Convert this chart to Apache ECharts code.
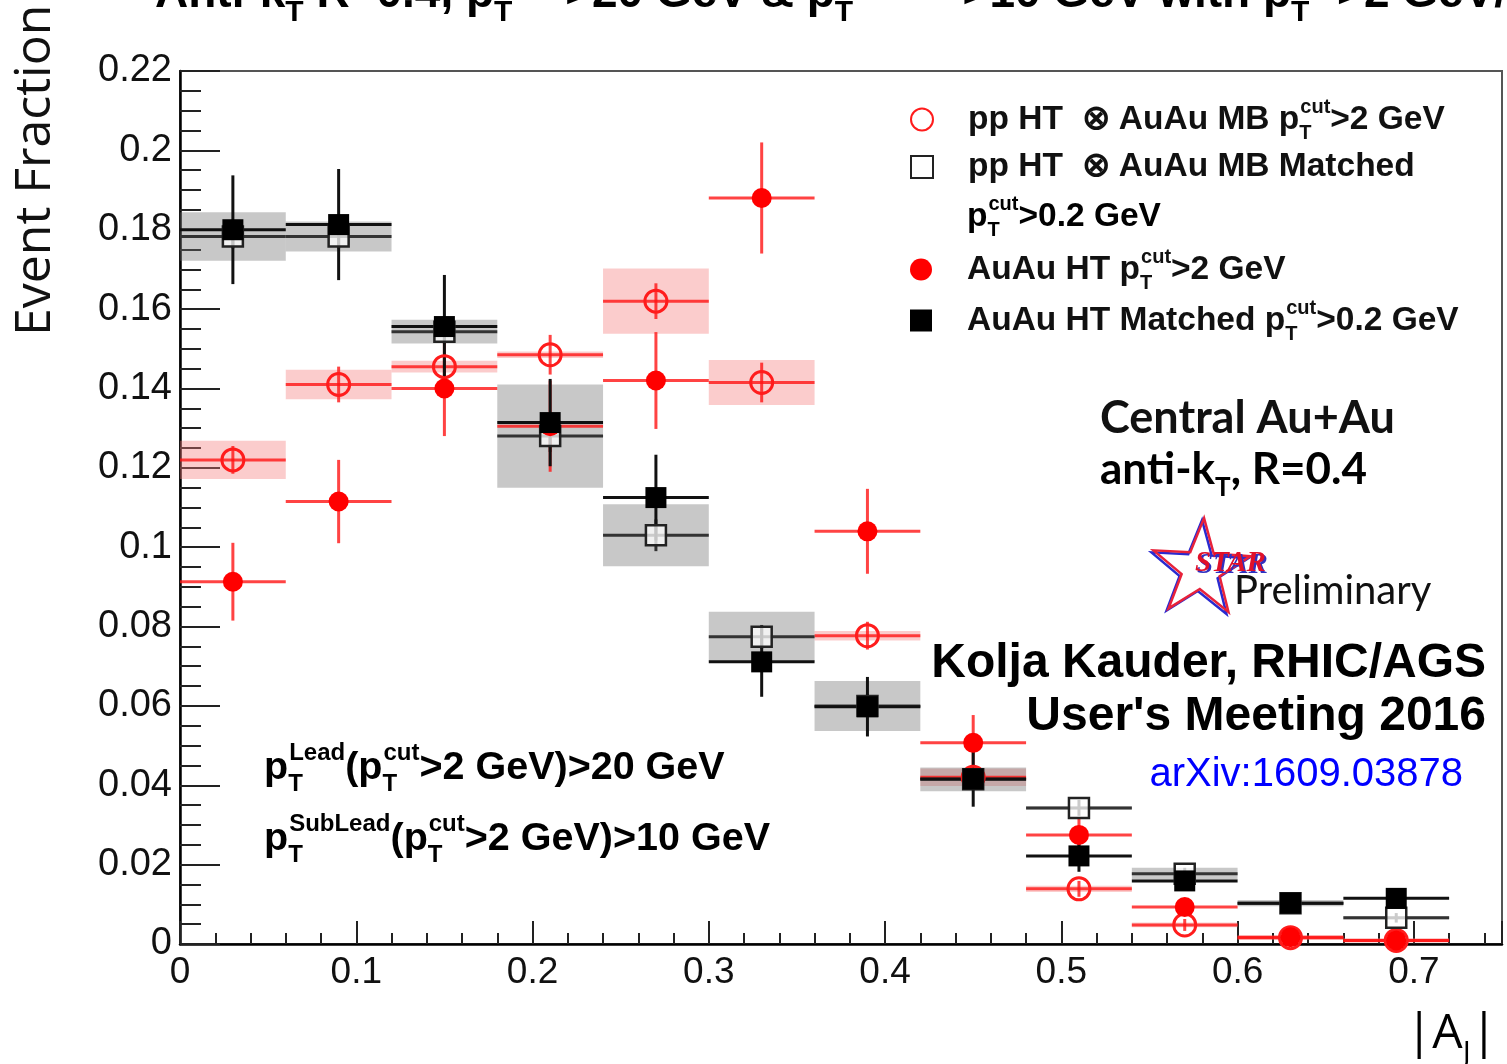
<!DOCTYPE html>
<html><head><meta charset="utf-8">
<script src="https://cdn.jsdelivr.net/npm/echarts@6/dist/echarts.min.js"></script>
<style>html,body{margin:0;padding:0;background:#fff}#c{width:1507px;height:1064px}</style>
</head><body><div id="c"></div>
<script>
// ---------------- DATA ----------------
const binCenters = [0.03, 0.09, 0.15, 0.21, 0.27, 0.33, 0.39, 0.45, 0.51, 0.57, 0.63, 0.69];
const binHalfWidth = 0.03;

// pp HT (x) AuAu MB, pT cut > 2 GeV (open red circles)
const ppMB      = [0.1220, 0.1410, 0.1455, 0.1485, 0.1620, 0.1415, 0.0777, 0.0420, 0.0139, 0.0048, 0.0016, 0.0009];
const ppMBStat  = [0.0035, 0.0045, 0.0030, 0.0050, 0.0045, 0.0050, 0.0035, 0.0030, 0.0020, 0.0015, 0.0010, 0.0008];
const ppMBSys   = [0.0048, 0.0037, 0.0015, 0.0008, 0.0082, 0.0057, 0.0012, 0.0022, 0.0008, 0.0006, 0.0006, 0.0006];

// pp HT (x) AuAu MB Matched, pT cut > 0.2 GeV (open black squares)
const ppMatched     = [0.1783, 0.1783, 0.1543, 0.1280, 0.1030, 0.0774, 0.0600, 0.0415, 0.0343, 0.0177, 0.0103, 0.0066];
const ppMatchedStat = [0.0030, 0.0030, 0.0030, 0.0040, 0.0040, 0.0030, 0.0030, 0.0020, 0.0020, 0.0015, 0.0012, 0.0012];
const ppMatchedSys  = [0.0061, 0.0038, 0.0030, 0.0130, 0.0078, 0.0063, 0.0063, 0.0030, 0.0004, 0.0015, 0.0008, 0.0004];

// AuAu HT, pT cut > 2 GeV (filled red circles)
const auau     = [0.0913, 0.1115, 0.1400, 0.1305, 0.1420, 0.1880, 0.1040, 0.0507, 0.0275, 0.0093, 0.0017, 0.0009];
const auauStat = [0.0098, 0.0105, 0.0120, 0.0115, 0.0122, 0.0140, 0.0107, 0.0070, 0.0040, 0.0020, 0.0012, 0.0010];

// AuAu HT Matched, pT cut > 0.2 GeV (filled black squares)
const auauMatched     = [0.1800, 0.1813, 0.1556, 0.1314, 0.1125, 0.0711, 0.0598, 0.0416, 0.0222, 0.0159, 0.0103, 0.0115];
const auauMatchedStat = [0.0137, 0.0140, 0.0130, 0.0110, 0.0108, 0.0088, 0.0075, 0.0070, 0.0040, 0.0025, 0.0020, 0.0020];

const seriesNames = [
  'pp HT ⊗ AuAu MB pT cut>2 GeV',
  'pp HT ⊗ AuAu MB Matched pT cut>0.2 GeV',
  'AuAu HT pT cut>2 GeV',
  'AuAu HT Matched pT cut>0.2 GeV'
];
const legendTexts = [
  '{m|pp HT  ⊗ AuAu MB p}{sbw|T}{sp|cut}{m|>2 GeV}',
  '{m|pp HT  ⊗ AuAu MB Matched}',
  '{m|AuAu HT p}{sbw|T}{sp|cut}{m|>2 GeV}',
  '{m|AuAu HT Matched p}{sbw|T}{sp|cut}{m|>0.2 GeV}'
];
const xTickLabels = ['0', '0.1', '0.2', '0.3', '0.4', '0.5', '0.6', '0.7'];

// ---------------- HELPERS ----------------
function rows(vals, stat, sys) {
  return binCenters.map((x, i) => [x, vals[i], stat ? stat[i] : 0, sys ? sys[i] : 0]);
}
function boxItem(color) {
  return function (params, api) {
    const x = api.value(0), y = api.value(1), s = api.value(3);
    const p1 = api.coord([x - binHalfWidth, y + s]);
    const p2 = api.coord([x + binHalfWidth, y - s]);
    return { type: 'rect', shape: { x: p1[0], y: p1[1], width: p2[0] - p1[0], height: p2[1] - p1[1] },
             style: { fill: color } };
  };
}
function errItem(color, w) {
  return function (params, api) {
    const x = api.value(0), y = api.value(1), e = api.value(2);
    const l = api.coord([x - binHalfWidth, y]), r = api.coord([x + binHalfWidth, y]);
    const t = api.coord([x, y + e]), b = api.coord([x, y - e]);
    return { type: 'group', children: [
      { type: 'line', shape: { x1: l[0], y1: l[1], x2: r[0], y2: r[1] }, style: { stroke: color, lineWidth: w } },
      { type: 'line', shape: { x1: t[0], y1: t[1], x2: b[0], y2: b[1] }, style: { stroke: color, lineWidth: w } }
    ] };
  };
}
function rich(size, supSize, ff, weight, color) {
  const base = { fontFamily: ff, fontWeight: weight, color: color };
  return {
    m: Object.assign({ fontSize: size }, base),
    sp: Object.assign({ fontSize: supSize, padding: [0, 0, Math.round(size * 0.74), 0] }, base),
    sb: Object.assign({ fontSize: supSize, padding: [Math.round(size * 0.8), 0, 0, 0] }, base),
    sbw: Object.assign({ fontSize: supSize, width: 1, padding: [Math.round(size * 0.8), 0, 0, 0] }, base)
  };
}
const HB = "'Liberation Sans', Arial, Helvetica, sans-serif";
const legendRich = rich(33.5, 20, HB, 'bold', '#111');
const legendY = [117, 167, 267, 318];
const legendOff = [20, 17, 20, 20];

const chart = echarts.init(document.getElementById('c'));
const custom = (name, data, fn, z) => ({ type: 'custom', name, data, renderItem: fn, z, silent: true, clip: true,
  encode: { x: 0, y: 1 } });

const option = {
  animation: false,
  backgroundColor: '#ffffff',
  grid: { left: 180, right: 5, top: 71, bottom: 120, show: true, borderColor: '#555', borderWidth: 2, backgroundColor: 'transparent' },
  xAxis: [
    { type: 'value', min: 0, max: 0.75, interval: 0.02,
      axisLine: { show: true, lineStyle: { color: '#000', width: 2.5 } },
      axisTick: { show: true, inside: true, length: 11, lineStyle: { color: '#222', width: 2 } },
      axisLabel: { show: false }, splitLine: { show: false } },
    { type: 'value', min: 0, max: 0.75, interval: 0.1, position: 'bottom',
      axisLine: { show: false },
      axisTick: { show: true, inside: true, length: 23, lineStyle: { color: '#222', width: 2 } },
      axisLabel: { show: true, margin: 10, fontFamily: HB, fontSize: 37, color: '#111',
        formatter: v => { const k = Math.round(v * 10); return Math.abs(v * 10 - k) < 1e-6 ? xTickLabels[k] : ''; } },
      splitLine: { show: false } }
  ],
  yAxis: { type: 'value', min: 0, max: 0.22, interval: 0.02,
    axisLine: { show: true, lineStyle: { color: '#000', width: 2.5 } },
    axisTick: { show: true, inside: true, length: 40, lineStyle: { color: '#222', width: 2 } },
    minorTick: { show: true, splitNumber: 4, length: 21, lineStyle: { color: '#222', width: 2 } },
    axisLabel: { margin: 8, fontFamily: HB, fontSize: 38, color: '#111',
      formatter: v => v === 0 ? '0' : String(parseFloat(v.toFixed(2))) },
    splitLine: { show: false } },
  legend: legendTexts.map((t, i) => ({
    data: [seriesNames[i]], left: 910, top: legendY[i] - legendOff[i], padding: 0, itemWidth: 22, itemHeight: 22,
    selectedMode: false, formatter: () => legendTexts[i],
    textStyle: { padding: [0, 0, 0, 30], rich: legendRich }
  })),
  series: [
    custom('ppMB-sys', rows(ppMB, ppMBStat, ppMBSys), boxItem('rgba(245,120,120,0.38)'), 1),
    custom('ppMatched-sys', rows(ppMatched, ppMatchedStat, ppMatchedSys), boxItem('rgba(110,110,110,0.38)'), 1),
    custom('ppMB-err', rows(ppMB, ppMBStat), errItem('rgba(255,20,20,0.8)', 3), 2),
    custom('ppMatched-err', rows(ppMatched, ppMatchedStat), errItem('#333', 3), 2),
    custom('auau-err', rows(auau, auauStat), errItem('rgba(255,20,20,0.8)', 3), 2),
    custom('auauMatched-err', rows(auauMatched, auauMatchedStat), errItem('#111', 3), 2),
    { type: 'scatter', name: seriesNames[0], z: 3, silent: true, symbol: 'circle', symbolSize: 22,
      itemStyle: { color: 'rgba(255,255,255,0)', borderColor: '#ff1c1c', borderWidth: 3, opacity: 1 },
      data: binCenters.map((x, i) => [x, ppMB[i]]) },
    { type: 'scatter', name: seriesNames[1], z: 3, silent: true, symbol: 'rect', symbolSize: 20,
      itemStyle: { color: 'rgba(255,255,255,0.75)', borderColor: '#222', borderWidth: 2.5, opacity: 1 },
      data: binCenters.map((x, i) => [x, ppMatched[i]]) },
    { type: 'scatter', name: seriesNames[2], z: 3, silent: true, symbol: 'circle', symbolSize: 20,
      itemStyle: { color: '#ff0000', opacity: 1 },
      data: binCenters.map((x, i) => [x, auau[i]]) },
    { type: 'scatter', name: seriesNames[3], z: 3, silent: true, symbol: 'rect', symbolSize: 21,
      itemStyle: { color: '#000000', opacity: 1 },
      data: binCenters.map((x, i) => [x, auauMatched[i]]) }
  ],
  graphic: []
};

// ---------------- TEXT / DECORATIONS ----------------
function txt(x, y, text, richObj, align, extra) {
  return Object.assign({ type: 'text', x, y, silent: true, z: 100,
    style: { text, rich: richObj, align: align || 'left', verticalAlign: 'middle',
             textAlign: align || 'left', textVerticalAlign: 'middle' } }, extra || {});
}
function plain(x, y, text, ff, size, weight, fill, align, extraStyle) {
  return { type: 'text', x, y, silent: true, z: 100,
    style: Object.assign({ text, fontFamily: ff, fontSize: size, fontWeight: weight || 'normal', fill,
      align: align || 'left', verticalAlign: 'middle', textAlign: align || 'left', textVerticalAlign: 'middle' }, extraStyle || {}) };
}
const g = option.graphic;
// cut-off title
g.push(txt(155, -6,
  '{m|Anti-k}{sb|T}{m| R=0.4, p}{sbw|T}{sp|Lead}{m|>20 GeV & p}{sbw|T}{sp|SubLead}{m|>10 GeV with p}{sbw|T}{sp|cut}{m|>2 GeV/c}',
  rich(46, 30, HB, 'bold', '#111'), 'left'));
// y axis name
g.push({ type: 'text', x: 36, y: 336, rotation: Math.PI / 2, silent: true, z: 100,
  style: { text: 'Event Fraction', fontFamily: "'Open Sans', sans-serif", fontSize: 50, fill: '#111',
           align: 'left', verticalAlign: 'middle', textAlign: 'left', textVerticalAlign: 'middle' } });
// x axis name
g.push(txt(1406, 1034, '{m||A}{sb|J}{m||}', rich(48, 30, "'Open Sans', sans-serif", 'normal', '#111'), 'left'));
// legend continuation line
g.push(txt(967, 217, '{m|p}{sbw|T}{sp|cut}{m|>0.2 GeV}', legendRich, 'left'));
// Central Au+Au
const LATO = "Lato, 'Open Sans', sans-serif";
g.push(plain(1100, 418, 'Central Au+Au', LATO, 45, 'bold', '#111'));
g.push(txt(1100, 470, '{m|anti-k}{sb|T}{m|, R=0.4}', rich(44, 26, LATO, 'bold', '#111'), 'left'));
// STAR logo
function starPts(cx, cy, R, r, tilt) {
  const pts = [];
  for (let k = 0; k < 10; k++) {
    const a = -Math.PI / 2 + tilt + k * Math.PI / 5;
    const rad = k % 2 === 0 ? R : r;
    pts.push([cx + rad * Math.cos(a), cy + rad * Math.sin(a)]);
  }
  return pts;
}
g.push({ type: 'polygon', silent: true, z: 99, shape: { points: starPts(1199, 571, 51, 20, 0.06) },
  style: { fill: 'none', stroke: '#2a2ad0', lineWidth: 2.5 } });
g.push({ type: 'polygon', silent: true, z: 99, shape: { points: starPts(1201, 569, 51, 20, 0.06) },
  style: { fill: 'none', stroke: '#e8223a', lineWidth: 2.5 } });
g.push(plain(1197, 566, 'STAR', "'Liberation Serif', serif", 29, 'bold', '#3030c0', 'left', { fontStyle: 'italic' }));
g.push(plain(1195, 564, 'STAR', "'Liberation Serif', serif", 29, 'bold', '#e0102a', 'left', { fontStyle: 'italic' }));
g.push(plain(1234, 591, 'Preliminary', LATO, 40, 'normal', '#111'));
// Author / meeting
g.push(plain(1486, 664, 'Kolja Kauder, RHIC/AGS', HB, 48, 'bold', '#000', 'right'));
g.push(plain(1486, 717, "User's Meeting 2016", HB, 48, 'bold', '#000', 'right'));
g.push(plain(1463, 775, 'arXiv:1609.03878', HB, 40, 'normal', '#0000ff', 'right'));
// cuts text bottom left
const cutRich = rich(39.5, 24, HB, 'bold', '#111');
g.push(txt(264, 768, '{m|p}{sbw|T}{sp|Lead}{m|(p}{sbw|T}{sp|cut}{m|>2 GeV)>20 GeV}', cutRich, 'left'));
g.push(txt(264, 839, '{m|p}{sbw|T}{sp|SubLead}{m|(p}{sbw|T}{sp|cut}{m|>2 GeV)>10 GeV}', cutRich, 'left'));

chart.setOption(option);
</script></body></html>
